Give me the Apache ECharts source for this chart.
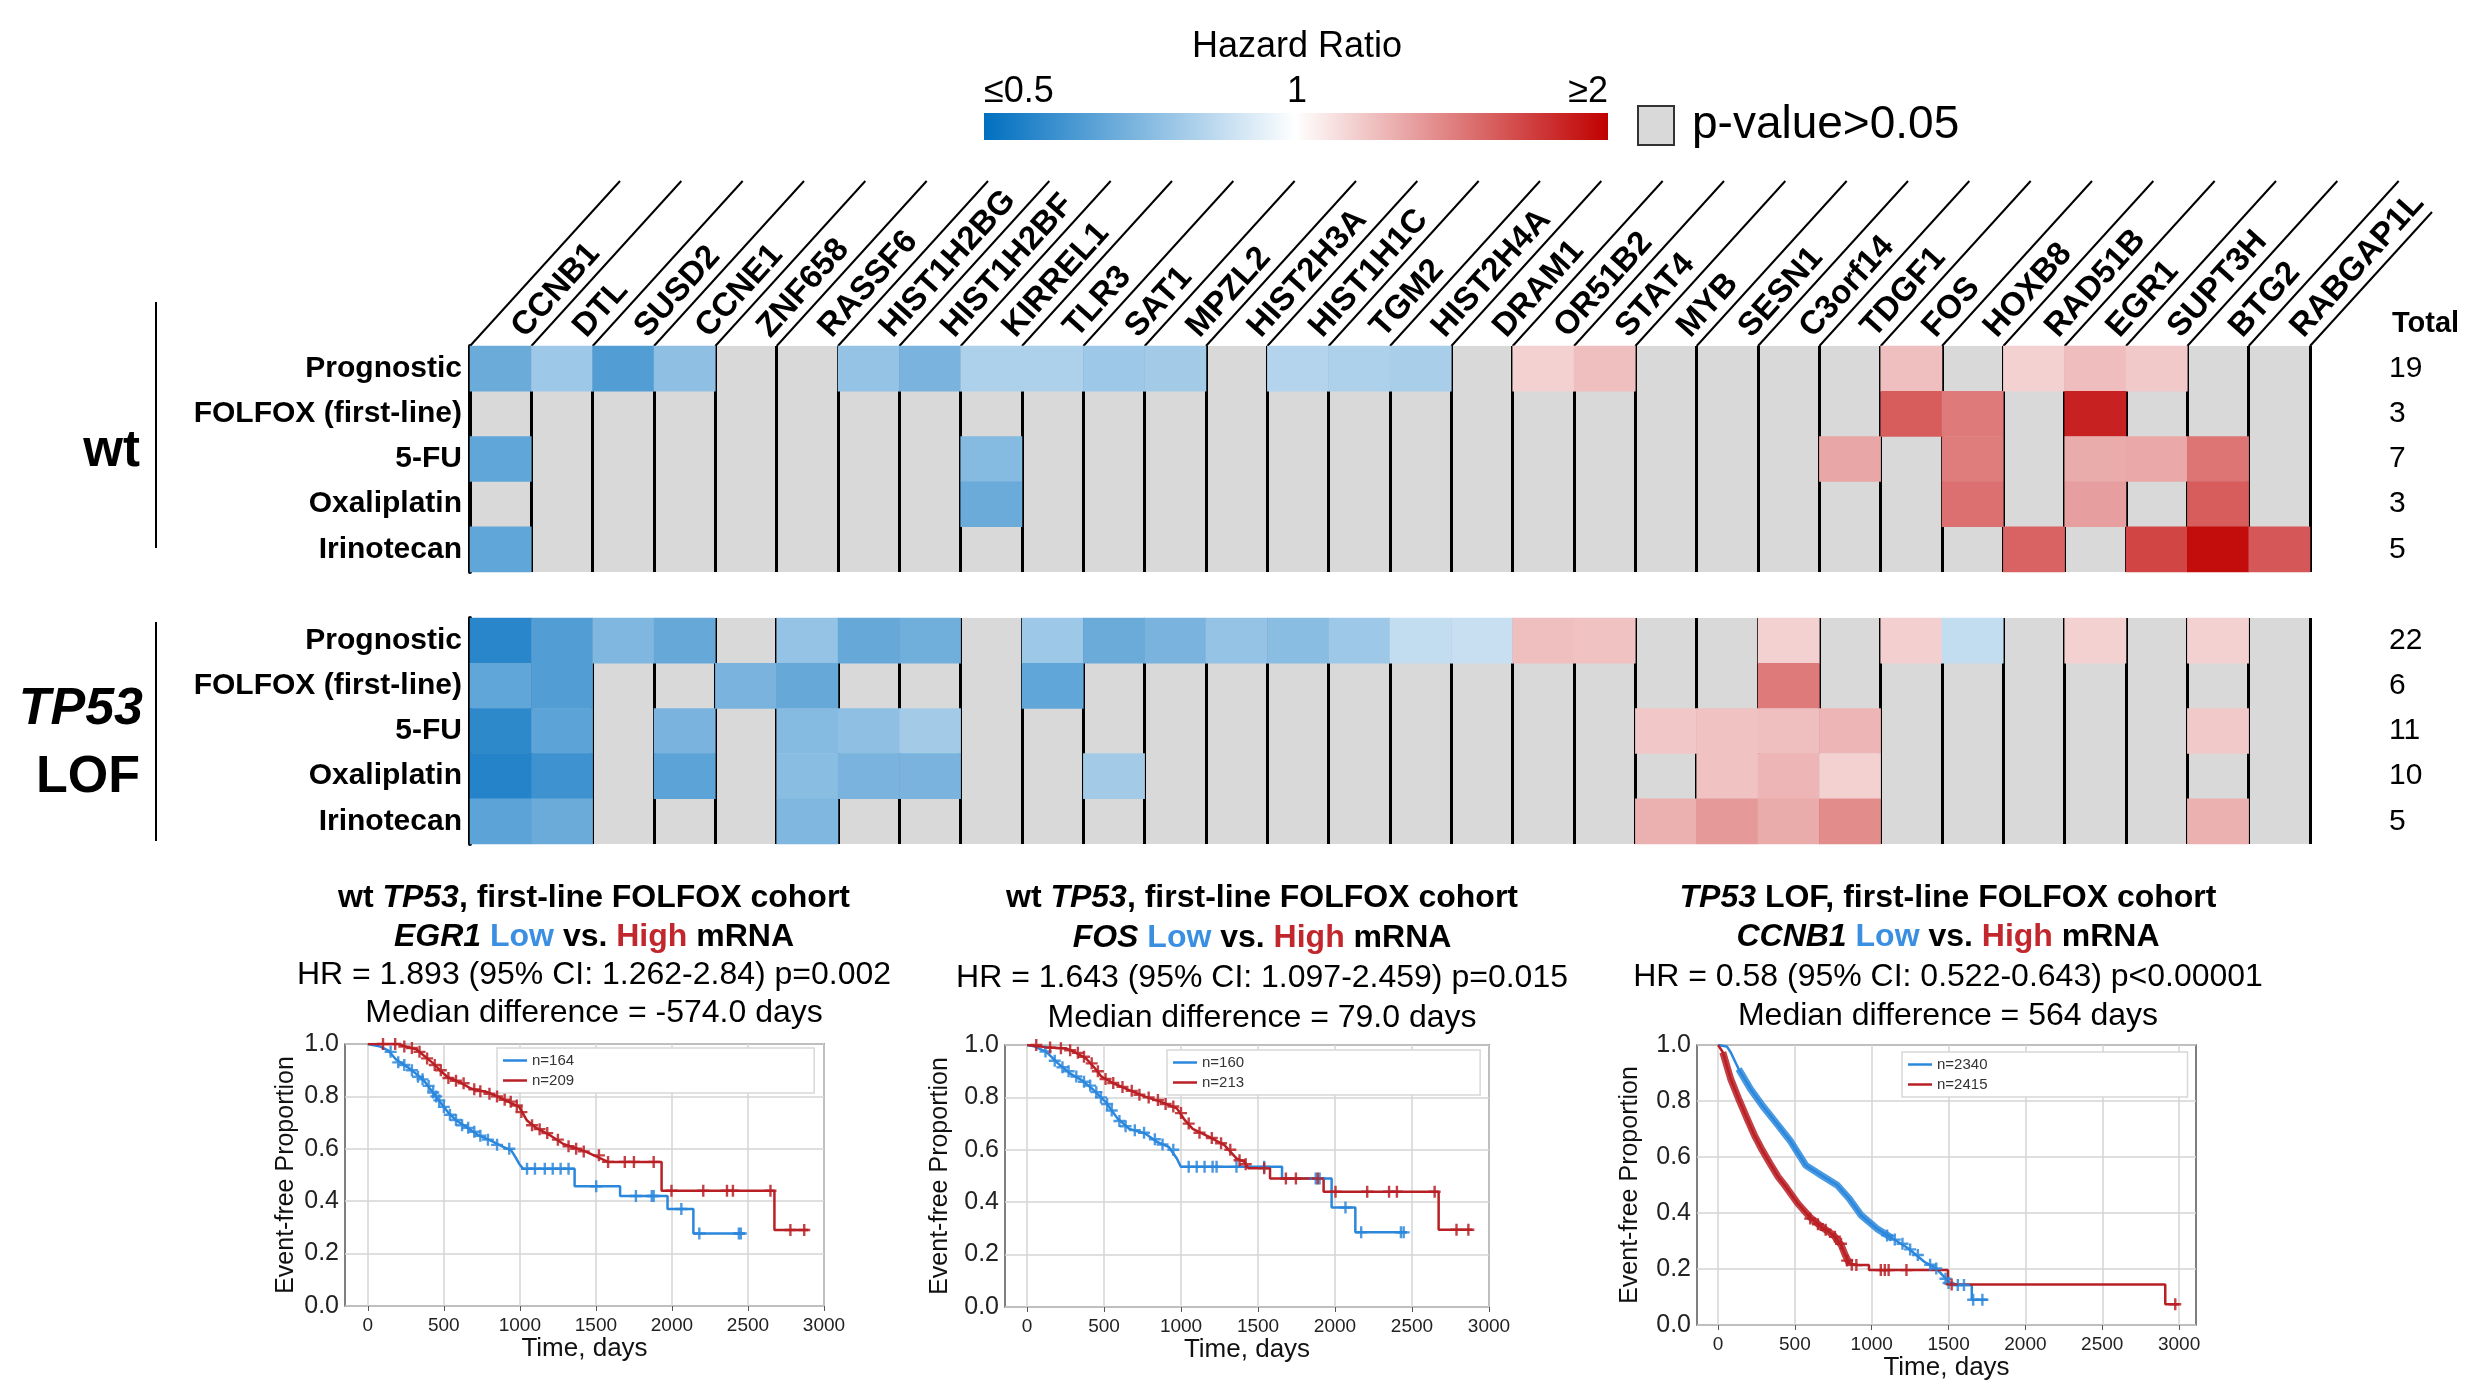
<!DOCTYPE html>
<html>
<head>
<meta charset="utf-8">
<title>Hazard ratio heatmap</title>
<script src="https://cdn.jsdelivr.net/npm/echarts@6/dist/echarts.min.js"></script>
<style>
  html, body { margin: 0; padding: 0; background: #fff; }
  #main { width: 2489px; height: 1392px; }
</style>
</head>
<body>
<div id="main"></div>
<script>
// ---- heatmap data: hazard ratio per gene, null = p-value > 0.05 ----
var genes = ['CCNB1','DTL','SUSD2','CCNE1','ZNF658','RASSF6','HIST1H2BG','HIST1H2BF','KIRREL1','TLR3',
  'SAT1','MPZL2','HIST2H3A','HIST1H1C','TGM2','HIST2H4A','DRAM1','OR51B2','STAT4','MYB',
  'SESN1','C3orf14','TDGF1','FOS','HOXB8','RAD51B','EGR1','SUPT3H','BTG2','RABGAP1L'];
var rowNames = ['Prognostic','FOLFOX (first-line)','5-FU','Oxaliplatin','Irinotecan'];
var wtTotals = ['19','3','7','3','5'];
var lofTotals = ['22','6','11','10','5'];

var wtPrognostic = [0.71,0.81,0.66,0.78,null,null,0.79,0.74,0.84,0.84,0.81,0.82,null,0.85,0.84,0.83,null,1.18,1.25,null,null,null,null,1.25,null,1.18,1.26,1.21,null,null];
var wtFolfox     = [null,null,null,null,null,null,null,null,null,null,null,null,null,null,null,null,null,null,null,null,null,null,null,1.64,1.52,null,1.87,null,null,null];
var wt5FU        = [0.69,null,null,null,null,null,null,null,0.76,null,null,null,null,null,null,null,null,null,null,null,null,null,1.35,null,1.51,null,1.33,1.34,1.54,null];
var wtOxali      = [null,null,null,null,null,null,null,null,0.71,null,null,null,null,null,null,null,null,null,null,null,null,null,null,null,1.56,null,1.38,null,1.64,null];
var wtIrino      = [0.69,null,null,null,null,null,null,null,null,null,null,null,null,null,null,null,null,null,null,null,null,null,null,null,null,1.61,null,1.73,1.95,1.66];

var lofPrognostic = [0.58,0.66,0.75,0.70,null,0.79,0.70,0.72,null,0.81,0.71,0.74,0.79,0.77,0.81,0.88,0.89,1.25,1.24,null,null,1.18,null,1.19,0.88,null,1.18,null,1.18,null];
var lofFolfox     = [0.69,0.66,null,null,0.74,0.70,null,null,null,0.69,null,null,null,null,null,null,null,null,null,null,null,1.52,null,null,null,null,null,null,null,null];
var lof5FU        = [0.59,0.68,null,0.74,null,0.76,0.78,0.82,null,null,null,null,null,null,null,null,null,null,null,1.22,1.24,1.25,1.29,null,null,null,null,null,1.21,null];
var lofOxali      = [0.57,0.62,null,0.68,null,0.77,0.74,0.74,null,null,0.82,null,null,null,null,null,null,null,null,null,1.24,1.29,1.18,null,null,null,null,null,null,null];
var lofIrino      = [0.68,0.71,null,null,null,0.75,null,null,null,null,null,null,null,null,null,null,null,null,null,1.31,1.40,1.33,1.45,null,null,null,null,null,1.31,null];

// ---- Kaplan-Meier curves [days, event-free proportion] ----
var km1Low  = [[0,1],[83,0.99],[135,0.975],[187,0.94],[266,0.91],[318,0.886],[370,0.86],[422,0.82],[474,0.78],[526,0.74],[578,0.71],[656,0.68],[734,0.65],[812,0.63],[890,0.607],[943,0.594],[969,0.57],[995,0.543],[1021,0.524],[1360,0.524],[1360,0.457],[1659,0.457],[1659,0.42],[1971,0.42],[1971,0.37],[2141,0.37],[2141,0.277],[2479,0.277]];
var km1High = [[0,1],[200,1],[266,0.987],[318,0.98],[370,0.955],[422,0.93],[474,0.9],[526,0.873],[604,0.854],[682,0.829],[786,0.816],[890,0.79],[995,0.76],[1047,0.708],[1099,0.683],[1203,0.65],[1281,0.62],[1437,0.588],[1580,0.55],[1932,0.55],[1932,0.44],[2674,0.44],[2674,0.29],[2896,0.29]];
var km1LowCens  = [[150,0.97],[200,0.93],[240,0.92],[290,0.9],[330,0.875],[360,0.865],[400,0.84],[430,0.815],[450,0.8],[470,0.785],[500,0.76],[540,0.73],[580,0.71],[620,0.69],[660,0.68],[700,0.665],[740,0.65],[790,0.635],[850,0.615],[930,0.6],[1047,0.524],[1099,0.524],[1164,0.524],[1216,0.524],[1268,0.524],[1320,0.524],[1502,0.457],[1763,0.42],[1867,0.42],[1880,0.42],[2062,0.37],[2180,0.277],[2440,0.277],[2453,0.277]];
var km1HighCens = [[100,1],[180,1],[240,0.99],[290,0.985],[340,0.97],[390,0.945],[440,0.92],[480,0.9],[530,0.87],[580,0.86],[630,0.85],[700,0.827],[740,0.82],[800,0.81],[850,0.8],[900,0.787],[940,0.78],[980,0.765],[1010,0.74],[1080,0.69],[1130,0.675],[1180,0.66],[1250,0.635],[1320,0.61],[1370,0.6],[1420,0.59],[1520,0.575],[1580,0.55],[1690,0.55],[1750,0.55],[1880,0.55],[1997,0.44],[2206,0.44],[2362,0.44],[2401,0.44],[2648,0.44],[2779,0.29],[2870,0.29]];

var km2Low  = [[0,1],[46,0.995],[124,0.975],[201,0.93],[278,0.892],[355,0.866],[433,0.828],[510,0.783],[587,0.72],[664,0.68],[767,0.662],[845,0.63],[922,0.61],[973,0.567],[999,0.535],[1656,0.535],[1656,0.49],[1978,0.49],[1978,0.38],[2132,0.38],[2132,0.285],[2467,0.285]];
var km2High = [[0,1],[149,0.99],[252,0.987],[304,0.975],[381,0.95],[433,0.917],[484,0.879],[561,0.854],[664,0.828],[767,0.803],[870,0.783],[973,0.758],[1025,0.713],[1076,0.68],[1179,0.65],[1282,0.618],[1360,0.567],[1411,0.554],[1437,0.53],[1578,0.53],[1578,0.49],[1926,0.49],[1926,0.44],[2673,0.44],[2673,0.295],[2892,0.295]];
var km2LowCens  = [[120,0.975],[180,0.94],[230,0.915],[270,0.9],[320,0.88],[370,0.86],[410,0.845],[450,0.82],[480,0.8],[520,0.775],[550,0.75],[600,0.71],[640,0.69],[700,0.675],[760,0.665],[830,0.64],[880,0.62],[950,0.6],[1050,0.535],[1102,0.535],[1153,0.535],[1205,0.535],[1231,0.535],[1360,0.535],[1540,0.535],[1875,0.49],[1900,0.49],[2068,0.38],[2170,0.285],[2428,0.285],[2446,0.285]];
var km2HighCens = [[60,1],[150,0.99],[220,0.988],[280,0.98],[330,0.97],[370,0.955],[420,0.93],[460,0.9],[510,0.87],[560,0.855],[620,0.84],[680,0.825],[730,0.81],[790,0.8],[850,0.79],[900,0.775],[950,0.765],[1000,0.74],[1050,0.7],[1120,0.665],[1200,0.645],[1260,0.625],[1320,0.6],[1380,0.56],[1420,0.545],[1540,0.53],[1681,0.49],[1746,0.49],[1888,0.49],[2003,0.44],[2209,0.44],[2351,0.44],[2402,0.44],[2647,0.44],[2789,0.295],[2866,0.295]];

var km3Low  = [[0,1],[57,0.995],[82,0.974],[134,0.914],[211,0.843],[288,0.784],[391,0.713],[468,0.659],[571,0.57],[674,0.534],[776,0.499],[854,0.451],[931,0.392],[1034,0.344],[1136,0.309],[1239,0.273],[1342,0.226],[1419,0.202],[1471,0.172],[1522,0.143],[1651,0.143],[1651,0.09],[1753,0.09]];
var km3High = [[0,1],[31,0.974],[82,0.879],[134,0.808],[185,0.742],[237,0.677],[288,0.624],[339,0.576],[391,0.529],[442,0.493],[519,0.434],[596,0.386],[674,0.35],[751,0.321],[802,0.285],[828,0.249],[854,0.22],[905,0.214],[982,0.214],[982,0.196],[1496,0.196],[1496,0.145],[2910,0.145],[2910,0.074],[3000,0.074]];
var km3LowCens  = [[1100,0.32],[1150,0.305],[1200,0.29],[1250,0.27],[1300,0.25],[1380,0.215],[1420,0.202],[1480,0.165],[1500,0.15],[1560,0.143],[1600,0.143],[1660,0.09],[1720,0.09]];
var km3HighCens = [[600,0.38],[650,0.36],[700,0.34],[760,0.315],[800,0.29],[840,0.23],[870,0.215],[900,0.214],[1059,0.196],[1085,0.196],[1110,0.196],[1226,0.196],[1520,0.145],[2975,0.074]];

var kmTicks = [0, 500, 1000, 1500, 2000, 2500, 3000];

// ---- layout ----
var FONT = 'Liberation Sans, Arial, sans-serif';
var HM_LEFT = 470, HM_WIDTH = 1840, HM_HEIGHT = 226, WT_TOP = 346, LOF_TOP = 618;
var COL_W = HM_WIDTH / genes.length;
var BLUE = '#006fc0', RED = '#c00000', GREY = '#d9d9d9';
var KM_BLUE = '#2b87dc', KM_RED = '#b82025';

// HR 0.5..1..2 -> -1..0..1 (piecewise linear like the colour bar)
function hrScale(hr) { return hr < 1 ? (hr - 1) / 0.5 : hr - 1; }

function toCells(rows) {
  var out = [];
  rows.forEach(function (row, r) {
    row.forEach(function (hr, c) {
      if (hr != null) out.push([c, r, hrScale(hr), hr]);
    });
  });
  return out;
}
var wtCells = toCells([wtPrognostic, wtFolfox, wt5FU, wtOxali, wtIrino]);
var lofCells = toCells([lofPrognostic, lofFolfox, lof5FU, lofOxali, lofIrino]);

function heatX(gridIndex, showLabels) {
  return {
    gridIndex: gridIndex, type: 'category', data: genes, position: 'top',
    axisLine: { show: false }, axisTick: { show: false },
    // left padding pushes the slanted names along their diagonal, into the header slots
    axisLabel: { show: showLabels, interval: 0, rotate: -48, margin: -6, padding: [0, 0, 0, 26],
      fontSize: 33, fontWeight: 'bold', color: '#000', fontFamily: FONT },
    splitLine: { show: true, interval: 0, lineStyle: { color: '#000', width: 3 } }
  };
}
function heatY(gridIndex) {
  return {
    gridIndex: gridIndex, type: 'category', data: rowNames, inverse: true,
    axisLine: { show: true, lineStyle: { color: '#000', width: 4 } }, axisTick: { show: false },
    axisLabel: { margin: 8, fontSize: 30, fontWeight: 'bold', color: '#000', fontFamily: FONT },
    splitLine: { show: false }
  };
}
function totalY(gridIndex, totals, pad) {
  return {
    gridIndex: gridIndex, type: 'category', data: totals, inverse: true, position: 'right',
    axisLine: { show: false }, axisTick: { show: false },
    axisLabel: { margin: 79, fontSize: 30, color: '#000', fontFamily: FONT, align: 'left', padding: [pad, 0, 0, 0] },
    splitLine: { show: false }
  };
}

function kmX(gridIndex, min, max) {
  return {
    gridIndex: gridIndex, type: 'value', min: min, max: max,
    name: 'Time, days', nameLocation: 'middle', nameGap: 30,
    nameTextStyle: { fontSize: 26, color: '#111', fontFamily: FONT },
    axisLine: { show: false },
    axisTick: { show: true, length: 5, customValues: kmTicks, lineStyle: { color: '#555' } },
    axisLabel: { customValues: kmTicks, fontSize: 19, color: '#222', margin: 10, fontFamily: FONT,
      formatter: function (v) { return String(v); } },
    splitLine: { show: true, lineStyle: { color: '#d4d4d4', width: 1.5 } }
  };
}
function kmY(gridIndex, max, gap) {
  return {
    gridIndex: gridIndex, type: 'value', min: 0, max: max, interval: 0.2,
    name: 'Event-free Proportion', nameLocation: 'middle', nameGap: gap, nameRotate: 90,
    nameTextStyle: { fontSize: 25, color: '#111', fontFamily: FONT },
    axisLine: { show: false }, axisTick: { show: false },
    axisLabel: { fontSize: 25, color: '#222', margin: 6, fontFamily: FONT, formatter: function (v) { return v.toFixed(1); } },
    splitLine: { show: true, lineStyle: { color: '#d4d4d4', width: 1.5 } }
  };
}

// axis index of each KM panel (x and y share the same index)
var censorSymbol = 'path://M4,0H6V4H10V6H6V10H4V6H0V4H4Z';
function kmLine(name, data, color, axis) {
  return { type: 'line', name: name, data: data, xAxisIndex: axis, yAxisIndex: axis, showSymbol: false,
    lineStyle: { color: color, width: 2.5 }, itemStyle: { color: color }, z: 3, silent: true };
}
function kmCens(data, color, axis) {
  return { type: 'scatter', data: data, xAxisIndex: axis, yAxisIndex: axis, symbol: censorSymbol, symbolSize: 12,
    itemStyle: { color: color, opacity: 0.85 }, z: 4, silent: true };
}
// thick band where censor marks pile up (panel 3)
function kmBand(data, color, axis, from, to) {
  return { type: 'line', data: data.filter(function (d) { return d[0] >= from && d[0] <= to; }), xAxisIndex: axis, yAxisIndex: axis,
    showSymbol: false, lineStyle: { color: color, width: 7, opacity: 0.85 }, z: 3, silent: true };
}
function kmLegend(names, left, top, padRight) {
  return { data: names, left: left, top: top, orient: 'vertical', icon: 'rect', itemWidth: 24, itemHeight: 2.5, itemGap: 5,
    textStyle: { fontSize: 15, color: '#333', fontFamily: FONT }, borderColor: '#d8d8d8', borderWidth: 1.5,
    padding: [5, padRight, 5, 6], backgroundColor: '#fff', selectedMode: false };
}

// ---- graphic decorations: header diagonals, legend, group labels, KM titles ----
var graphics = [];
for (var k = 0; k <= genes.length; k++) {
  var x0 = HM_LEFT + k * COL_W;
  var last = k === genes.length;
  graphics.push({ type: 'line', silent: true, shape: { x1: x0, y1: WT_TOP, x2: x0 + (last ? 122 : 150), y2: WT_TOP - (last ? 134 : 165) },
    style: { stroke: '#000', lineWidth: 2 } });
}
function txt(text, x, y, size, opts) {
  opts = opts || {};
  return { type: 'text', silent: true, x: x, y: y, style: { text: text, fontSize: size, fontFamily: FONT, fill: '#000',
    fontWeight: opts.weight || 'normal', fontStyle: opts.style || 'normal', align: opts.align || 'center', verticalAlign: 'middle' } };
}
graphics.push(txt('Hazard Ratio', 1297, 47, 36));
graphics.push(txt('\u22640.5', 984, 92, 36, { align: 'left' }));
graphics.push(txt('1', 1297, 92, 36));
graphics.push(txt('\u22652', 1608, 92, 36, { align: 'right' }));
graphics.push({ type: 'rect', silent: true, shape: { x: 984, y: 113, width: 624, height: 27 },
  style: { fill: new echarts.graphic.LinearGradient(0, 0, 1, 0, [
    { offset: 0, color: BLUE }, { offset: 0.5, color: '#ffffff' }, { offset: 1, color: RED }]) } });
graphics.push({ type: 'rect', silent: true, shape: { x: 1638, y: 106, width: 36, height: 39 },
  style: { fill: GREY, stroke: '#333', lineWidth: 2 } });
graphics.push(txt('p-value>0.05', 1692, 125, 46, { align: 'left' }));

// group labels and separators
graphics.push(txt('wt', 140, 452, 51, { weight: 'bold', align: 'right' }));
graphics.push(txt('TP53', 143, 710, 52, { weight: 'bold', style: 'italic', align: 'right' }));
graphics.push(txt('LOF', 140, 778, 52, { weight: 'bold', align: 'right' }));
graphics.push({ type: 'line', silent: true, shape: { x1: 156, y1: 302, x2: 156, y2: 548 }, style: { stroke: '#000', lineWidth: 2 } });
graphics.push({ type: 'line', silent: true, shape: { x1: 156, y1: 622, x2: 156, y2: 841 }, style: { stroke: '#000', lineWidth: 2 } });
graphics.push(txt('Total', 2392, 324, 29, { weight: 'bold', align: 'left' }));

// KM titles
var rich = {
  b: { fontSize: 32, fontWeight: 'bold', fontFamily: FONT, fill: '#000' },
  bi: { fontSize: 32, fontWeight: 'bold', fontStyle: 'italic', fontFamily: FONT, fill: '#000' },
  lo: { fontSize: 32, fontWeight: 'bold', fontFamily: FONT, fill: '#3a8fe3' },
  hi: { fontSize: 32, fontWeight: 'bold', fontFamily: FONT, fill: '#c1272d' }
};
function richTxt(text, x, y) {
  return { type: 'text', silent: true, x: x, y: y, style: { text: text, rich: rich, align: 'center', verticalAlign: 'middle' } };
}
graphics.push(richTxt('{b|wt }{bi|TP53}{b|, first-line FOLFOX cohort}', 594, 898));
graphics.push(richTxt('{bi|EGR1}{b| }{lo|Low}{b| vs. }{hi|High}{b| mRNA}', 594, 937));
graphics.push(txt('HR = 1.893 (95% CI: 1.262-2.84) p=0.002', 594, 975, 32));
graphics.push(txt('Median difference = -574.0 days', 594, 1013, 32));

graphics.push(richTxt('{b|wt }{bi|TP53}{b|, first-line FOLFOX cohort}', 1262, 898));
graphics.push(richTxt('{bi|FOS}{b| }{lo|Low}{b| vs. }{hi|High}{b| mRNA}', 1262, 938));
graphics.push(txt('HR = 1.643 (95% CI: 1.097-2.459) p=0.015', 1262, 978, 32));
graphics.push(txt('Median difference = 79.0 days', 1262, 1018, 32));

graphics.push(richTxt('{bi|TP53}{b| LOF, first-line FOLFOX cohort}', 1948, 898));
graphics.push(richTxt('{bi|CCNB1}{b| }{lo|Low}{b| vs. }{hi|High}{b| mRNA}', 1948, 937));
graphics.push(txt('HR = 0.58 (95% CI: 0.522-0.643) p<0.00001', 1948, 977, 32));
graphics.push(txt('Median difference = 564 days', 1948, 1016, 32));

var kmGridStyle = { show: true, backgroundColor: '#fff', borderColor: '#555', borderWidth: 1.5 };

var option = {
  animation: false,
  backgroundColor: '#fff',
  textStyle: { fontFamily: FONT },
  grid: [
    { left: HM_LEFT, top: WT_TOP, width: HM_WIDTH, height: HM_HEIGHT, show: true, backgroundColor: GREY, borderWidth: 0 },
    { left: HM_LEFT, top: LOF_TOP, width: HM_WIDTH, height: HM_HEIGHT, show: true, backgroundColor: GREY, borderWidth: 0 },
    Object.assign({ left: 345, top: 1044, width: 479, height: 262 }, kmGridStyle),
    Object.assign({ left: 1005, top: 1045, width: 484, height: 262 }, kmGridStyle),
    Object.assign({ left: 1697, top: 1045, width: 499, height: 280 }, kmGridStyle)
  ],
  xAxis: [heatX(0, true), heatX(1, false), kmX(2, -150, 3000), kmX(3, -143, 3000), kmX(4, -137, 3110)],
  yAxis: [heatY(0), heatY(1), kmY(2, 1, 46), kmY(3, 1, 52), kmY(4, 1, 54), totalY(0, wtTotals, 22), totalY(1, lofTotals, 0)],
  visualMap: {
    type: 'continuous', show: false, min: -1, max: 1, dimension: 2, seriesIndex: [0, 1],
    inRange: { color: [BLUE, '#ffffff', RED] }
  },
  legend: [
    kmLegend(['n=164', 'n=209'], 497, 1048, 240),
    kmLegend(['n=160', 'n=213'], 1167, 1050, 236),
    kmLegend(['n=2340', 'n=2415'], 1902, 1052, 200)
  ],
  graphic: graphics,
  series: [
    { type: 'heatmap', xAxisIndex: 0, yAxisIndex: 0, data: wtCells, silent: true },
    { type: 'heatmap', xAxisIndex: 1, yAxisIndex: 1, data: lofCells, silent: true },
    kmLine('n=164', km1Low, KM_BLUE, 2), kmLine('n=209', km1High, KM_RED, 2),
    kmCens(km1LowCens, KM_BLUE, 2), kmCens(km1HighCens, KM_RED, 2),
    kmLine('n=160', km2Low, KM_BLUE, 3), kmLine('n=213', km2High, KM_RED, 3),
    kmCens(km2LowCens, KM_BLUE, 3), kmCens(km2HighCens, KM_RED, 3),
    kmLine('n=2340', km3Low, KM_BLUE, 4), kmLine('n=2415', km3High, KM_RED, 4),
    kmBand(km3Low, KM_BLUE, 4, 100, 1140), kmBand(km3High, KM_RED, 4, 30, 860),
    kmCens(km3LowCens, KM_BLUE, 4), kmCens(km3HighCens, KM_RED, 4)
  ]
};

var chart = echarts.init(document.getElementById('main'), null, { renderer: 'canvas' });
chart.setOption(option);
</script>
</body>
</html>
